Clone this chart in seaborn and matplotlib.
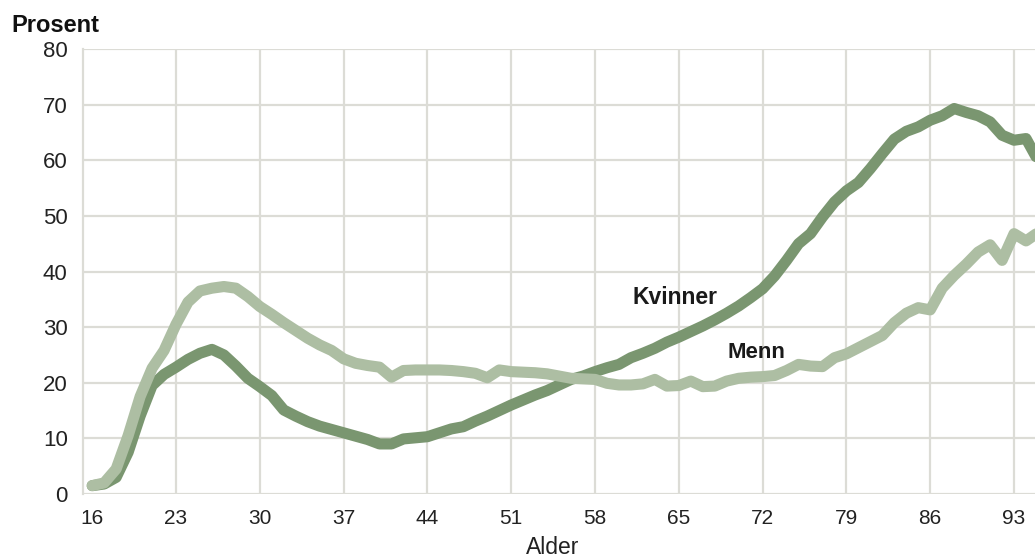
import matplotlib
matplotlib.use("Agg")
import matplotlib.pyplot as plt
import seaborn as sns
import pandas as pd

ages = list(range(16, 96))
kvinner = [1.5, 1.8, 3.0, 7.5, 14.0, 19.5, 21.5, 22.8, 24.2, 25.3,
           26.0, 25.0, 23.0, 20.8, 19.3, 17.7, 15.1, 14.0, 13.0, 12.2,
           11.6, 11.0, 10.4, 9.8, 9.0, 9.0, 9.9, 10.1, 10.3, 11.0,
           11.7, 12.1, 13.1, 14.0, 15.0, 16.0, 16.9, 17.8, 18.6, 19.6,
           20.6, 21.2, 22.0, 22.7, 23.3, 24.5, 25.3, 26.2, 27.3, 28.2,
           29.2, 30.2, 31.3, 32.5, 33.8, 35.3, 36.9, 39.2, 42.0, 45.0,
           46.8, 49.8, 52.5, 54.5, 56.0, 58.5, 61.2, 63.8, 65.2, 66.0,
           67.2, 68.0, 69.3, 68.6, 68.0, 66.9, 64.5, 63.6, 63.9, 60.0]
menn = [1.5, 2.0, 4.5, 10.5, 17.5, 22.6, 25.8, 30.5, 34.5, 36.5,
        37.0, 37.3, 37.0, 35.5, 33.7, 32.3, 30.8, 29.4, 28.0, 26.8,
        25.8, 24.3, 23.5, 23.1, 22.8, 21.0, 22.2, 22.3, 22.3, 22.3,
        22.2, 22.0, 21.7, 20.9, 22.3, 22.0, 21.9, 21.8, 21.6, 21.2,
        20.8, 20.7, 20.6, 19.9, 19.6, 19.6, 19.8, 20.6, 19.4, 19.5,
        20.3, 19.3, 19.4, 20.3, 20.8, 21.0, 21.1, 21.3, 22.2, 23.3,
        23.0, 22.9, 24.5, 25.2, 26.3, 27.4, 28.5, 30.8, 32.5, 33.5,
        33.1, 37.0, 39.3, 41.3, 43.5, 44.8, 42.0, 46.8, 45.5, 47.0]
x_ticks = [16, 23, 30, 37, 44, 51, 58, 65, 72, 79, 86, 93]
y_ticks = [0, 10, 20, 30, 40, 50, 60, 70, 80]

df = pd.DataFrame({
    "Alder": ages * 2,
    "Prosent": kvinner + menn,
    "Kjønn": ["Kvinner"] * len(ages) + ["Menn"] * len(ages),
})

sns.set_theme(style="white")
plt.rcParams["font.family"] = ["Liberation Sans", "DejaVu Sans"]

fig = plt.figure(figsize=(10.35, 5.57), dpi=100)
ax = fig.add_axes([83 / 1035, 1 - 494 / 557, 1 - 83 / 1035, (494 - 49) / 557])

dark = "#7a9670"
light = "#adbea3"
grid_c = "#dcdcd6"

sns.lineplot(data=df, x="Alder", y="Prosent", hue="Kjønn",
             hue_order=["Kvinner", "Menn"], palette=[dark, light],
             linewidth=8, legend=False, ax=ax,
             solid_joinstyle="round", solid_capstyle="round")

ax.set_xlim(15.23, 94.75)
ax.set_ylim(0, 80)
ax.set_xticks(x_ticks)
ax.set_yticks(y_ticks)
ax.grid(True, color=grid_c, linewidth=1.6)
ax.set_axisbelow(True)
ax.xaxis.get_gridlines()[0].set_visible(False)
for s in ["top", "right", "bottom"]:
    ax.spines[s].set_visible(False)
ax.spines["left"].set_color(grid_c)
ax.spines["left"].set_linewidth(1.6)

ax.tick_params(axis="x", labelsize=15, pad=11, length=0, colors="#222222")
ax.tick_params(axis="y", labelsize=16, pad=11, length=0, colors="#222222")
ax.set_xlabel("")
ax.set_ylabel("")

fig.text(553 / 1035, 1 - 554 / 557, "Alder", fontsize=16.5, color="#222222",
         ha="center", va="baseline")

ax.text(61.1, 34.2, "Kvinner", fontsize=16.5, fontweight="bold",
        color="#1a1a1a", ha="left", va="baseline")
ax.text(69.1, 24.4, "Menn", fontsize=16, fontweight="bold",
        color="#1a1a1a", ha="left", va="baseline")

fig.text(11 / 1035, 1 - 31.5 / 557, "Prosent", fontsize=17,
         fontweight="bold", color="#111111", ha="left", va="baseline")

fig.savefig("out.png", dpi=100)
